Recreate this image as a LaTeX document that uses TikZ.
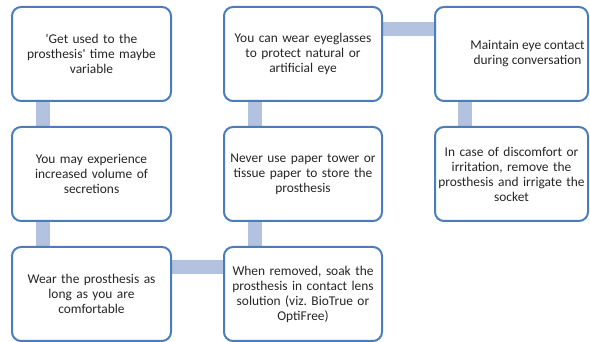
\documentclass[tikz,border=0pt]{standalone}
\usepackage{fontspec}
\setmainfont{Carlito}
\usepackage{tikz}
\usetikzlibrary{positioning, backgrounds}

\definecolor{boxblue}{HTML}{4A7EBB}
\definecolor{barblue}{HTML}{B2C2DF}
\frenchspacing

\begin{document}
\begin{tikzpicture}[x=1pt, y=-1pt,
  txt/.style={align=center, text=black!85, font=\fontsize{13.4}{15}\selectfont},
  tip/.style={txt, draw=boxblue, line width=2pt, rounded corners=9pt, fill=white,
    minimum width=159pt, minimum height=94pt, text width=152pt,
    anchor=north west, inner sep=0pt},
  bar/.style={draw=barblue, line width=14pt}]
\useasboundingbox (0,0) rectangle (590,342);

% first column
\node[tip] (get) at (11,6) {\textquotesingle Get used to the\\prosthesis\textquotesingle\ time maybe\\variable};
\node[tip] (secr) at (11,126) {You may experience\\increased volume of\\secretions};
\node[tip] (wear) at (11,246) {Wear the prosthesis as\\long as you are\\comfortable};

% second column
\node[tip, minimum width=158pt] (glasses) at (223,6) {You can wear eyeglasses\\to protect natural or\\artificial eye};
\node[tip, minimum width=158pt] (tissue) at (223,126) {Never use paper tower or\\tissue paper to store the\\prosthesis};
\node[tip, minimum width=158pt] (soak) at (223,246) {When removed, soak the\\prosthesis in contact lens\\solution (viz. BioTrue or\\OptiFree)};

% third column
\node[tip, minimum width=153pt,
  label={[txt, xshift=16pt]center:Maintain eye contact\\during conversation}] (contact) at (434,6) {};
\node[tip, minimum width=153pt] (irrit) at (434,126) {In case of discomfort or\\irritation, remove the\\prosthesis and irrigate the\\socket};

% bars between the boxes
\begin{scope}[on background layer]
\draw[bar] ([xshift=32pt]get.south west) -- ([xshift=32pt]secr.north west);
\draw[bar] ([xshift=32pt]secr.south west) -- ([xshift=32pt]wear.north west);
\draw[bar] ([yshift=-21pt]wear.north east) -- ([yshift=-21pt]soak.north west);
\draw[bar] ([xshift=32pt]soak.north west) -- ([xshift=32pt]tissue.south west);
\draw[bar] ([xshift=32pt]tissue.north west) -- ([xshift=32pt]glasses.south west);
\draw[bar] ([yshift=-23pt]glasses.north east) -- ([yshift=-23pt]contact.north west);
\draw[bar] ([xshift=31pt]contact.south west) -- ([xshift=31pt]irrit.north west);
\end{scope}
\end{tikzpicture}
\end{document}
